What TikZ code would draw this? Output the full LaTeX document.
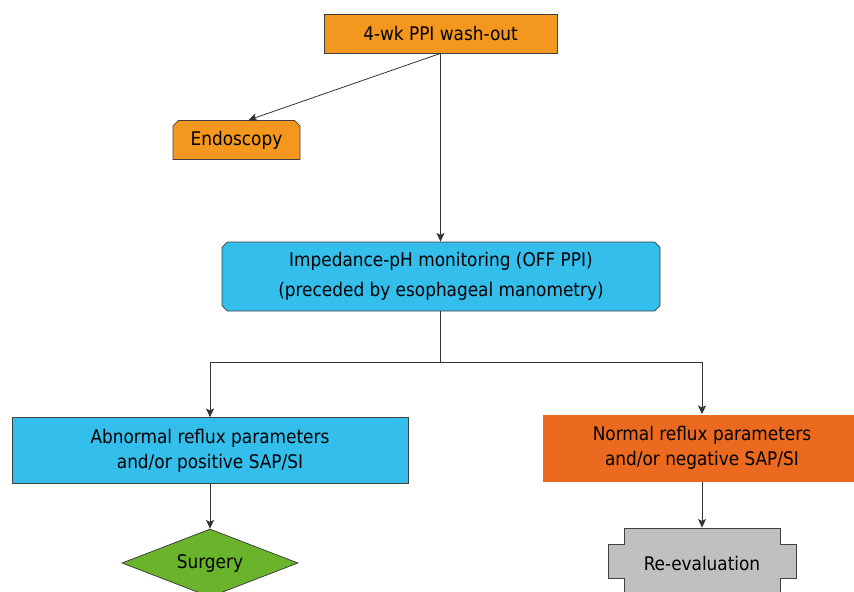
\documentclass[tikz,border=0pt]{standalone}
\usepackage{fontspec}
\setmainfont{DejaVu Sans Condensed}
\usetikzlibrary{arrows.meta,shapes.geometric,shapes.misc}

\definecolor{washorange}{RGB}{243,151,31}
\definecolor{monblue}{RGB}{51,190,236}
\definecolor{normorange}{RGB}{235,106,32}
\definecolor{surggreen}{RGB}{106,180,44}
\definecolor{revgray}{RGB}{192,192,192}

\begin{document}
\begin{tikzpicture}[x=0.75pt,y=-0.75pt,
    box/.style={draw=black!75,line width=0.6pt,inner sep=0pt,align=center,
      font=\fontsize{14.1}{19}\selectfont},
    link/.style={-{Stealth[length=6.5pt,width=6pt,inset=1.5pt]},line width=0.6pt,draw=black!80},
  ]
  \useasboundingbox (0,0) rectangle (854,592);

  % boxes
  \node[box,fill=washorange,minimum width=174.75pt,minimum height=29.25pt]
    (washout) at (440.5,33.5) {4-wk PPI wash-out};
  \node[box,fill=washorange,chamfered rectangle,
    chamfered rectangle corners={north west,north east},
    chamfered rectangle xsep=2pt,chamfered rectangle ysep=2pt,
    minimum width=95.25pt,minimum height=29.25pt]
    (endo) at (236.5,140) {Endoscopy};
  \node[box,fill=monblue,chamfered rectangle,
    chamfered rectangle xsep=2pt,chamfered rectangle ysep=2pt,
    font=\fontsize{14.1}{22.5}\selectfont,
    minimum width=328.5pt,minimum height=51.75pt]
    (monitor) at (441,276.5) {Impedance-pH monitoring (OFF PPI)\\(preceded by esophageal manometry)};
  \node[box,fill=monblue,minimum width=297pt,minimum height=49.5pt]
    (abnormal) at (210,450.5) {Abnormal reflux parameters\\and/or positive SAP/SI};
  \node[box,draw=none,fill=normorange,minimum width=238.5pt,minimum height=50.25pt]
    (normal) at (702,448) {Normal reflux parameters\\and/or negative SAP/SI};
  \node[box,fill=surggreen,diamond,aspect=2.6,inner sep=0pt,minimum width=132pt,minimum height=51pt]
    (surgery) at (210,563) {Surgery};

  % re-evaluation (notched box)
  \node[box,draw=none,minimum width=141pt,minimum height=49.5pt]
    (reeval) at (702,561) {};
  \fill[revgray,draw=black!75,line width=0.6pt]
    (624,528) -- (780,528) -- (780,544) -- (796,544) -- (796,578) -- (780,578)
    -- (780,594) -- (624,594) -- (624,578) -- (608,578) -- (608,544) -- (624,544) -- cycle;
  \node[font=\fontsize{14.1}{19}\selectfont] at ([yshift=-1.5]reeval) {Re-evaluation};

  % connectors
  \coordinate (fork) at (440,362);
  \draw[link] (washout.south) -- (endo.59);
  \draw[link] (washout.south) -- (monitor.north -| washout.south);
  \draw[line width=0.6pt,draw=black!80] (monitor.south -| fork) -- (fork);
  \draw[link] (fork) -| (abnormal.north);
  \draw[link] (fork) -| (normal.north);
  \draw[link] (abnormal.south) -- (surgery.north);
  \draw[link] (normal.south) -- (reeval.north);
\end{tikzpicture}
\end{document}
